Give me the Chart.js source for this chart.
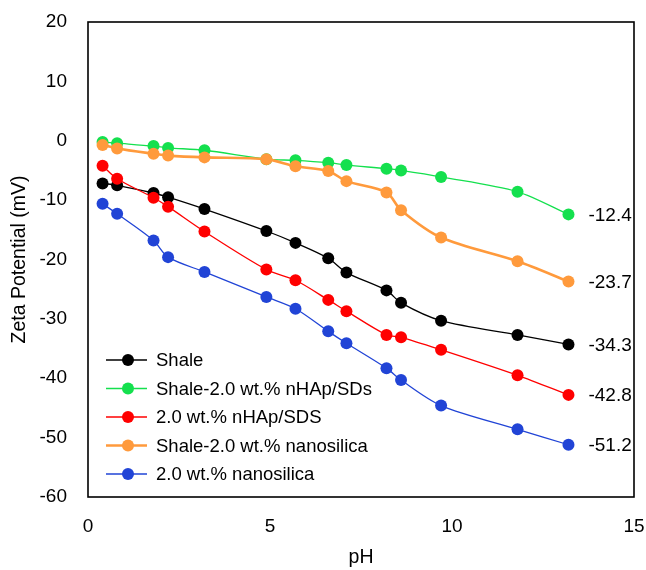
<!DOCTYPE html>
<html>
<head>
<meta charset="utf-8">
<script src="https://cdn.jsdelivr.net/npm/chart.js@4"></script>
<style>
  html, body { margin: 0; padding: 0; background: #ffffff; }
  #wrap { width: 646px; height: 570px; }
</style>
</head>
<body>
<div id="wrap"><canvas id="c" width="646" height="570"></canvas></div>
<script>
// pH values at which zeta potential was measured
const pH = [0.4, 0.8, 1.8, 2.2, 3.2, 4.9, 5.7, 6.6, 7.1, 8.2, 8.6, 9.7, 11.8, 13.2];

// Zeta potential (mV) for each sample
const shale        = [-7.2, -7.5, -8.8, -9.5, -11.5, -15.2, -17.2, -19.8, -22.2, -25.2, -27.3, -30.3, -32.7, -34.3];
const shaleNhapSds = [-0.2, -0.4, -0.9, -1.2, -1.6, -3.1, -3.3, -3.7, -4.1, -4.7, -5.0, -6.1, -8.6, -12.4];
const nhapSds      = [-4.2, -6.4, -9.6, -11.1, -15.3, -21.7, -23.5, -26.8, -28.7, -32.7, -33.1, -35.2, -39.5, -42.8];
const shaleSilica  = [-0.7, -1.3, -2.2, -2.5, -2.8, -3.1, -4.3, -5.1, -6.8, -8.7, -11.7, -16.3, -20.3, -23.7];
const silica       = [-10.6, -12.3, -16.8, -19.6, -22.1, -26.3, -28.3, -32.1, -34.1, -38.3, -40.3, -44.6, -48.6, -51.2];

const seriesNames = [
  'Shale',
  'Shale-2.0 wt.% nHAp/SDs',
  '2.0 wt.% nHAp/SDS',
  'Shale-2.0 wt.% nanosilica',
  '2.0 wt.% nanosilica'
];
const seriesValues = [shale, shaleNhapSds, nhapSds, shaleSilica, silica];
const seriesColors = ['#000000', '#14e04e', '#ff0000', '#ff9a3c', '#2144d6'];
const lineWidths   = [1.3, 1.3, 1.3, 2.6, 1.3];

const xTicks = [0, 5, 10, 15];
const yTicks = [20, 10, 0, -10, -20, -30, -40, -50, -60];

const FONT = "'Liberation Sans', Arial, sans-serif";
const FS_TICK = 19;
const FS_TITLE = 19.5;
const FS_LEGEND = 18.5;
const FS_VALUE = 19;

const datasets = seriesValues.map((vals, i) => ({
  label: seriesNames[i],
  data: vals.map((v, j) => ({ x: pH[j], y: v })),
  borderColor: seriesColors[i],
  backgroundColor: seriesColors[i],
  pointBackgroundColor: seriesColors[i],
  pointBorderColor: seriesColors[i],
  pointRadius: 6,
  pointBorderWidth: 0,
  borderWidth: lineWidths[i],
  tension: 0.3,
  order: seriesValues.length - i,
  showLine: true
}));

// Frame around the plot area
const frame = {
  id: 'frame',
  afterDraw(chart) {
    const { ctx, chartArea: a } = chart;
    ctx.save();
    ctx.strokeStyle = '#000';
    ctx.lineWidth = 1.6;
    ctx.strokeRect(a.left, a.top, a.right - a.left, a.bottom - a.top);
    ctx.restore();
  }
};

// Value at the end of each curve
const endLabels = {
  id: 'endLabels',
  afterDatasetsDraw(chart) {
    const { ctx } = chart;
    ctx.save();
    ctx.font = FS_VALUE + 'px ' + FONT;
    ctx.fillStyle = '#000';
    ctx.textAlign = 'left';
    ctx.textBaseline = 'middle';
    chart.data.datasets.forEach((ds, i) => {
      const meta = chart.getDatasetMeta(i);
      const last = meta.data[meta.data.length - 1];
      const v = ds.data[ds.data.length - 1].y;
      ctx.fillText(v.toFixed(1), last.x + 20, last.y + 1);
    });
    ctx.restore();
  }
};

// Legend inside the plot area, line + marker samples
const innerLegend = {
  id: 'innerLegend',
  afterDraw(chart) {
    const { ctx } = chart;
    const x0 = 106, x1 = 147, xm = 128, xt = 156;
    const yStart = 360, dy = 28.5;
    ctx.save();
    ctx.font = FS_LEGEND + 'px ' + FONT;
    ctx.textAlign = 'left';
    ctx.textBaseline = 'middle';
    chart.data.datasets.forEach((ds, i) => {
      const y = yStart + i * dy;
      ctx.strokeStyle = ds.borderColor;
      ctx.lineWidth = ds.borderWidth;
      ctx.beginPath();
      ctx.moveTo(x0, y);
      ctx.lineTo(x1, y);
      ctx.stroke();
      ctx.fillStyle = ds.borderColor;
      ctx.beginPath();
      ctx.arc(xm, y, 6, 0, Math.PI * 2);
      ctx.fill();
      ctx.fillStyle = '#000';
      ctx.fillText(ds.label, xt, y + 1);
    });
    ctx.restore();
  }
};

const bg = {
  id: 'bg',
  beforeDraw(chart) {
    const { ctx } = chart;
    ctx.save();
    ctx.fillStyle = '#fff';
    ctx.fillRect(0, 0, chart.width, chart.height);
    ctx.restore();
  }
};

function noOverflow(s) {
  s.paddingTop = 0;
  s.paddingBottom = 0;
  s.paddingLeft = 0;
  s.paddingRight = 0;
}

new Chart(document.getElementById('c'), {
  type: 'scatter',
  data: { datasets },
  plugins: [bg, frame, endLabels, innerLegend],
  options: {
    responsive: false,
    animation: false,
    devicePixelRatio: 1,
    layout: { padding: { top: 22, right: 12, left: 0, bottom: 0 } },
    plugins: {
      legend: { display: false },
      tooltip: { enabled: false }
    },
    scales: {
      x: {
        type: 'linear',
        min: 0,
        max: 15,
        afterBuildTicks(s) { s.ticks = xTicks.map(v => ({ value: v })); },
        afterFit(s) { s.height = 73; noOverflow(s); },
        grid: { display: false, drawTicks: false },
        border: { display: false },
        ticks: {
          color: '#000',
          font: { family: FONT, size: FS_TICK },
          padding: 18,
          maxRotation: 0
        },
        title: {
          display: true,
          text: 'pH',
          color: '#000',
          font: { family: FONT, size: FS_TITLE },
          padding: { top: 0, bottom: 1 }
        }
      },
      y: {
        type: 'linear',
        min: -60,
        max: 20,
        afterBuildTicks(s) { s.ticks = yTicks.map(v => ({ value: v })); },
        afterFit(s) { s.width = 88; noOverflow(s); },
        grid: { display: false, drawTicks: false },
        border: { display: false },
        ticks: {
          color: '#000',
          font: { family: FONT, size: FS_TICK },
          padding: 21
        },
        title: {
          display: true,
          text: 'Zeta Potential (mV)',
          color: '#000',
          font: { family: FONT, size: FS_TITLE },
          padding: { top: 8, bottom: 0 }
        }
      }
    }
  }
});
</script>
</body>
</html>
